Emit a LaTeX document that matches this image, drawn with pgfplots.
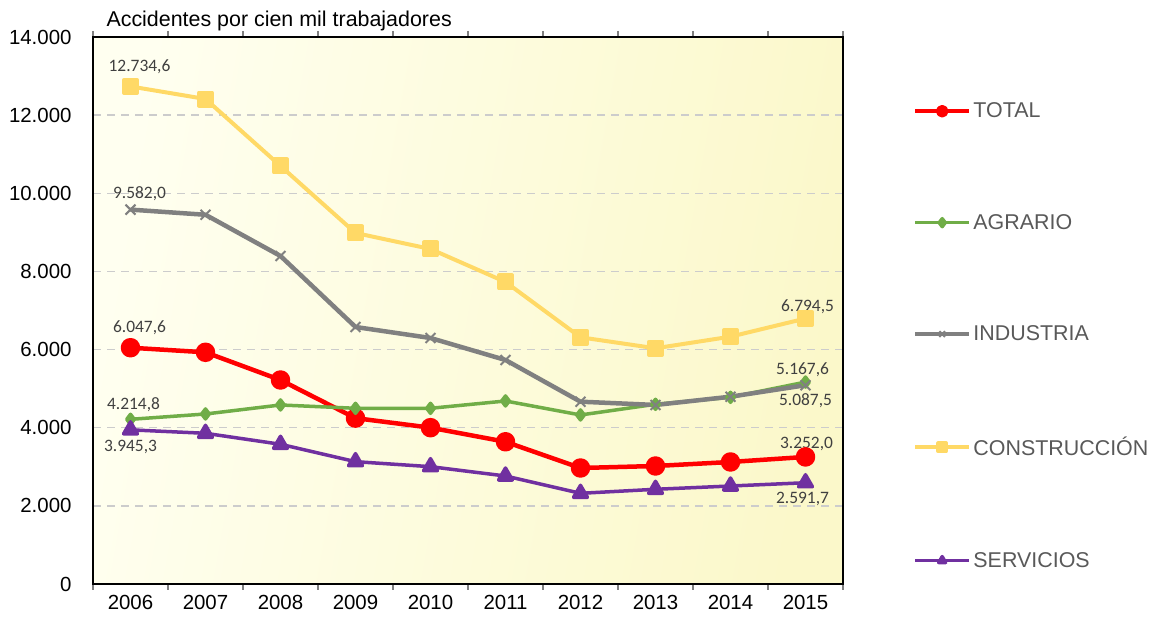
\documentclass[border=0pt]{standalone}
\usepackage{fontspec}
\setmainfont{Liberation Sans}
\newfontfamily\lblfont{Carlito}
\usepackage{pgfplots}
\pgfplotsset{compat=1.18}
\definecolor{cTotal}{HTML}{FF0000}
\definecolor{cAgr}{HTML}{70AD47}
\definecolor{cInd}{HTML}{808080}
\definecolor{cCon}{HTML}{FFD966}
\definecolor{cSer}{HTML}{7030A0}
\definecolor{lblgray}{HTML}{404040}
\definecolor{leggray}{HTML}{595959}
\definecolor{bgL}{HTML}{FFFFF0}
\definecolor{bgR}{HTML}{FBF8CA}
\tikzset{lbl/.style={font=\lblfont\fontsize{17.5}{20}\selectfont, text=lblgray, anchor=center}}
\begin{document}
\begin{tikzpicture}
\useasboundingbox (0,0) rectangle (1153bp,620bp);
\begin{axis}[
  at={(93bp,36bp)}, anchor=south west,
  scale only axis, width=750bp, height=547bp,
  xmin=-0.5, xmax=9.5, ymin=0, ymax=14000,
  xtick={0,...,9}, xticklabels={2006,2007,2008,2009,2010,2011,2012,2013,2014,2015},
  major x tick style={draw=none},
  minor xtick={-0.5,0.5,...,9.5},
  minor x tick style={color=gray, line width=1.2bp},
  tick align=outside, minor tick length=6bp, major tick length=6bp,
  ytick={0,2000,...,14000},
  scaled y ticks=false,
  major y tick style={draw=none},
  ymajorgrids,
  grid style={color=black!20, line width=1.3bp, dash pattern=on 8bp off 6bp},
  axis line style={black, line width=1.3bp},
  tick label style={font=\fontsize{20.5}{24}\selectfont},
  /pgf/number format/assume math mode=true,
  /pgf/number format/1000 sep={.},
  /pgf/number format/use comma,
  yticklabel style={xshift=-12bp},
  xticklabel style={yshift=-2bp},
  axis background/.style={shade, left color=bgL, right color=bgR, shading angle=80},
  legend style={at={(1.089,0.887)}, anchor=north west, draw=none, fill=none,
    font=\fontsize{21.5}{25}\selectfont, text=leggray, row sep=91bp},
  legend cell align=left,
  legend image code/.code={\draw[mark repeat=2,mark phase=2,mark size=4bp] plot coordinates {(0bp,0bp) (27bp,0bp) (54bp,0bp)};},
  clip=false,
]
\addplot[color=cTotal, line width=4.5bp, line join=round, mark=*, mark size=7.5bp] coordinates {
(0,6047.6) (1,5930) (2,5221) (3,4245) (4,4001) (5,3640) (6,2969) (7,3020) (8,3123) (9,3252.0)};
\addlegendentry{TOTAL}
\addplot[color=cAgr, line width=3.5bp, line join=round, mark=diamond*, mark size=5bp] coordinates {
(0,4214.8) (1,4351) (2,4582) (3,4497) (4,4497) (5,4684) (6,4326) (7,4599) (8,4779) (9,5167.6)};
\addlegendentry{AGRARIO}
\addplot[color=cInd, line width=4.5bp, line join=round, mark=x, mark size=7bp, mark options={line width=2bp}] coordinates {
(0,9582.0) (1,9450) (2,8395) (3,6578) (4,6296) (5,5733) (6,4666) (7,4582) (8,4794) (9,5087.5)};
\addlegendentry{INDUSTRIA}
\addplot[color=cCon, line width=4bp, line join=round, mark=square*, mark size=6.5bp] coordinates {
(0,12734.6) (1,12413) (2,10699) (3,8984) (4,8574) (5,7730) (6,6314) (7,6033) (8,6330) (9,6794.5)};
\addlegendentry{CONSTRUCCIÓN}
\addplot[color=cSer, line width=3.5bp, line join=round, mark=triangle*, mark size=8bp] coordinates {
(0,3945.3) (1,3857) (2,3576) (3,3131) (4,3003) (5,2764) (6,2321) (7,2424) (8,2508) (9,2591.7)};
\addlegendentry{SERVICIOS}
\node[lbl, xshift=9bp, yshift=20bp] at (axis cs:0,12734.6) {12.734,6};
\node[lbl, xshift=9bp, yshift=16bp] at (axis cs:0,9582.0) {9.582,0};
\node[lbl, xshift=9bp, yshift=20bp] at (axis cs:0,6047.6) {6.047,6};
\node[lbl, xshift=3bp, yshift=15bp] at (axis cs:0,4214.8) {4.214,8};
\node[lbl, xshift=0bp, yshift=-17bp] at (axis cs:0,3945.3) {3.945,3};
\node[lbl, xshift=2bp, yshift=12bp] at (axis cs:9,6794.5) {6.794,5};
\node[lbl, xshift=-3bp, yshift=12bp] at (axis cs:9,5167.6) {5.167,6};
\node[lbl, xshift=0bp, yshift=-15bp] at (axis cs:9,5087.5) {5.087,5};
\node[lbl, xshift=1bp, yshift=13bp] at (axis cs:9,3252.0) {3.252,0};
\node[lbl, xshift=-3bp, yshift=-16bp] at (axis cs:9,2591.7) {2.591,7};
\node[anchor=base west, font=\fontsize{21.5}{25}\selectfont, xshift=10bp, yshift=10bp] at (rel axis cs:0,1) {Accidentes por cien mil trabajadores};
\end{axis}
\end{tikzpicture}
\end{document}
